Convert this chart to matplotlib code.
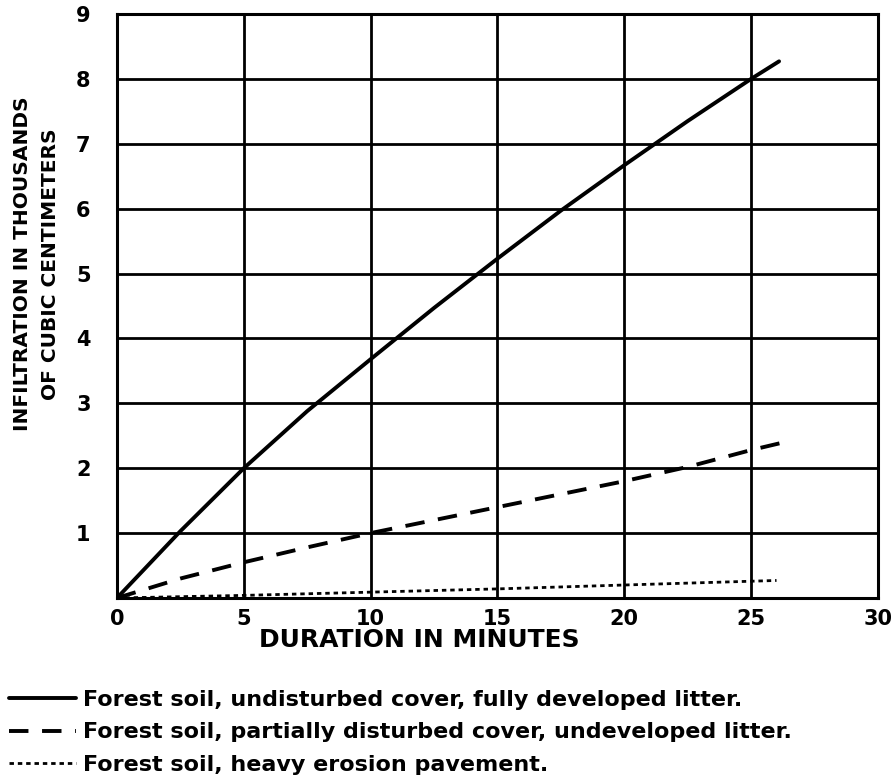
import matplotlib
matplotlib.use('Agg')
from matplotlib import pyplot as plt

# curves (minutes, thousands of cc)
undisturbed_x = [0, 2.5, 5, 7.5, 10, 12.5, 15, 17.5, 20, 22.5, 25, 26.1]
undisturbed_y = [0, 1.03, 2.0, 2.88, 3.68, 4.47, 5.23, 5.97, 6.67, 7.35, 8.0, 8.27]

partial_x = [0, 2.5, 5, 7.5, 10, 12.5, 15, 17.5, 20, 22.5, 25, 26.3]
partial_y = [0, 0.3, 0.55, 0.78, 1.0, 1.2, 1.4, 1.6, 1.8, 2.02, 2.28, 2.4]

erosion_x = [0, 5, 10, 15, 20, 26]
erosion_y = [0, 0.04, 0.09, 0.14, 0.2, 0.27]

labels = ['Forest soil, undisturbed cover, fully developed litter.',
          'Forest soil, partially disturbed cover, undeveloped litter.',
          'Forest soil, heavy erosion pavement.']

x_ticks = [0, 5, 10, 15, 20, 25, 30]
y_ticks = [1, 2, 3, 4, 5, 6, 7, 8, 9]

plt.rcParams['font.family'] = 'DejaVu Sans'
plt.rcParams['font.weight'] = 'bold'

fig = plt.figure(figsize=(8.91, 7.76), dpi=100)
ax = fig.add_axes([0.1313, 0.2294, 0.8541, 0.7526])

ax.plot(undisturbed_x, undisturbed_y, color='black', lw=2.8,
        solid_capstyle='round', zorder=3, label=labels[0])
ax.plot(partial_x, partial_y, color='black', lw=2.8, dashes=(5, 3.5),
        zorder=3, label=labels[1])
ax.plot(erosion_x, erosion_y, color='black', lw=2.0, dashes=(1.6, 1.4),
        zorder=3, label=labels[2])

ax.set_xlim(0, 30)
ax.set_ylim(0, 9)
ax.set_xticks(x_ticks)
ax.set_yticks(y_ticks)
ax.set_xticklabels([str(t) for t in x_ticks], fontsize=15, fontweight='bold')
ax.set_yticklabels([str(t) for t in y_ticks], fontsize=15, fontweight='bold')
ax.tick_params(length=0)
ax.tick_params(axis='y', pad=19)
ax.tick_params(axis='x', pad=8)
ax.grid(True, color='black', lw=2.0, zorder=1)
for s in ax.spines.values():
    s.set_linewidth(2.2)

ax.text(11.9, -0.65, 'DURATION IN MINUTES', ha='center', va='center',
        fontsize=18, fontweight='bold')
fig.text(0.025, 0.66, 'INFILTRATION IN THOUSANDS', rotation=90,
         ha='center', va='center', fontsize=14.5, fontweight='bold')
fig.text(0.057, 0.66, 'OF CUBIC CENTIMETERS', rotation=90,
         ha='center', va='center', fontsize=14.5, fontweight='bold')

fig.legend(loc='upper left', bbox_to_anchor=(0.0, 0.122), frameon=False,
           fontsize=16, handlelength=3.0, handletextpad=0.35,
           labelspacing=0.55, borderaxespad=0)

fig.savefig('out.png', dpi=100)
plt.close(fig)
